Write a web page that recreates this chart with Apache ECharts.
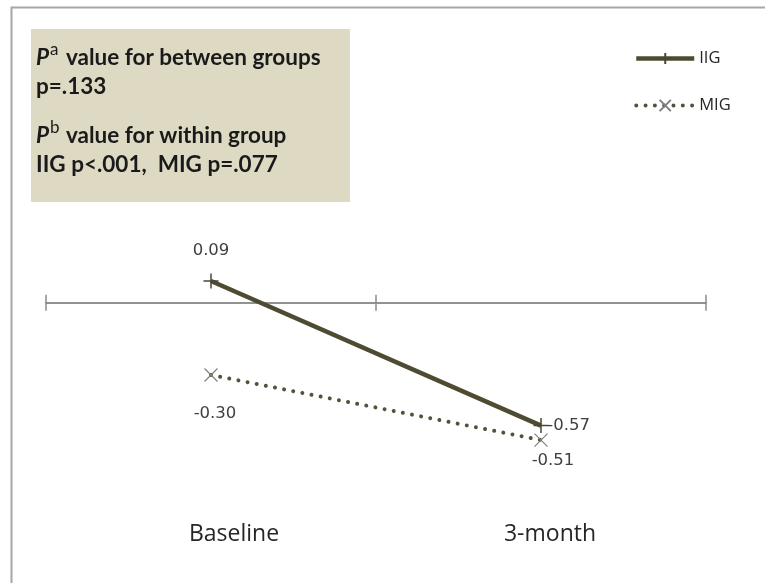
<!DOCTYPE html>
<html>
<head>
<meta charset="utf-8">
<script src="https://cdn.jsdelivr.net/npm/echarts@6/dist/echarts.min.js"></script>
<style>
  html, body { margin: 0; padding: 0; background: #fff; }
  #chart { width: 765px; height: 583px; }
</style>
</head>
<body>
<div id="chart"></div>
<script>
// data
const categories = ['Baseline', '3-month']
const iigValues = [0.09, -0.51]
const migValues = [-0.30, -0.57]
// label text as printed on the figure
const iigLabels = ['0.09', '-0.57']
const migLabels = ['-0.30', '-0.51']
const seriesNames = ['IIG', 'MIG']

const lineColor = '#4f4b32'
const labelFont = { color: '#404040', fontFamily: 'DejaVu Sans', fontSize: 16.5 }
const iigLine = { color: lineColor, width: 4.5 }
const migLine = { color: '#55513a', width: 4, type: [0.01, 9.3], cap: 'round' }

const chart = echarts.init(document.getElementById('chart'))

const boxText = { fontFamily: 'Lato', fontWeight: 'bold', fontSize: 22.5, fill: '#1a1a1a' }
const supText = { fontFamily: 'Lato', fontWeight: 'normal', fontSize: 17, fill: '#1a1a1a' }

chart.setOption({
  animation: false,
  graphic: [
    // outer frame
    { type: 'rect', left: 9, top: 5, shape: { width: 800, height: 620 },
      style: { fill: 'none', stroke: '#a6a6a6', lineWidth: 2 } },
    // p-value box
    { type: 'rect', left: 31, top: 29, shape: { width: 319, height: 173 },
      style: { fill: '#ddd9c3' } },
    { type: 'text', left: 36, top: 46, style: Object.assign({}, boxText, { text: 'P', fontStyle: 'italic' }) },
    { type: 'text', left: 50, top: 41, style: Object.assign({}, supText, { text: 'a' }) },
    { type: 'text', left: 66, top: 46, style: Object.assign({}, boxText, { text: 'value for between groups' }) },
    { type: 'text', left: 36, top: 75, style: Object.assign({}, boxText, { text: 'p=.133' }) },
    { type: 'text', left: 36, top: 124, style: Object.assign({}, boxText, { text: 'P', fontStyle: 'italic' }) },
    { type: 'text', left: 50, top: 119, style: Object.assign({}, supText, { text: 'b' }) },
    { type: 'text', left: 66, top: 124, style: Object.assign({}, boxText, { text: 'value for within group' }) },
    { type: 'text', left: 36, top: 153, style: Object.assign({}, boxText, { text: 'IIG p<.001,  MIG p=.077' }) }
  ],
  legend: {
    data: [
      { name: seriesNames[0], lineStyle: iigLine },
      { name: seriesNames[1], lineStyle: migLine }
    ],
    orient: 'vertical',
    left: 629,
    top: 45,
    itemWidth: 58,
    itemHeight: 14,
    itemGap: 30,
    textStyle: { fontFamily: 'Open Sans', fontSize: 16.5, color: '#262626' }
  },
  grid: { left: 46, right: 59, top: 158, bottom: 87.5 },
  xAxis: [
    {
      type: 'category', data: categories, position: 'bottom',
      axisLine: { onZero: true, onZeroAxisIndex: 0, lineStyle: { color: '#8c8c8c', width: 1.5 } },
      axisTick: { show: true, length: 8, lineStyle: { color: '#8c8c8c', width: 1.5 } },
      axisLabel: { show: false }
    },
    {
      type: 'category', data: categories, position: 'top',
      axisLine: { onZero: true, onZeroAxisIndex: 1, lineStyle: { color: '#8c8c8c', width: 1.5 } },
      axisTick: { show: true, length: 8, lineStyle: { color: '#8c8c8c', width: 1.5 } },
      axisLabel: { show: false }
    },
    {
      type: 'category', data: categories, position: 'bottom',
      axisLine: { show: false, onZero: false },
      axisTick: { show: false },
      axisLabel: {
        margin: 27,
        fontFamily: 'Open Sans', fontSize: 23, color: '#262626',
        formatter: (v, i) => (i === 0 ? '{a|' + v + '}' : '{b|' + v + '}'),
        rich: {
          a: { fontFamily: 'Open Sans', fontSize: 23, color: '#262626', padding: [0, 0, 0, 46] },
          b: { fontFamily: 'Open Sans', fontSize: 23, color: '#262626', padding: [0, 0, 0, 18] }
        }
      }
    }
  ],
  yAxis: [
    { type: 'value', min: -0.8, max: 0.6, show: false },
    { type: 'value', min: -0.8, max: 0.6, show: false }
  ],
  series: [
    {
      name: 'IIG',
      type: 'line',
      color: lineColor,
      symbol: 'path://M5,0L5,10M0,5L10,5',
      symbolSize: 15,
      itemStyle: { color: lineColor, borderColor: '#4a4735', borderWidth: 1.5 },
      lineStyle: iigLine,
      label: Object.assign({ show: true, formatter: p => iigLabels[p.dataIndex] }, labelFont),
      data: iigValues.map((v, i) => ({
        value: v,
        label: i === 0 ? { position: 'top', distance: 13 } : { position: 'right', distance: -2 }
      }))
    },
    {
      name: 'MIG',
      type: 'line',
      color: lineColor,
      symbol: 'path://M0,0L10,10M10,0L0,10',
      symbolSize: 13,
      itemStyle: { color: '#7f7f7f', borderColor: '#7f7f7f', borderWidth: 1.2 },
      lineStyle: migLine,
      label: Object.assign({ show: true, formatter: p => migLabels[p.dataIndex] }, labelFont),
      data: migValues.map((v, i) => ({
        value: v,
        label: i === 0 ? { position: 'bottom', distance: 23, offset: [4, 0] } : { position: 'bottom', distance: 5, offset: [12, 0] }
      }))
    }
  ]
})
</script>
</body>
</html>
